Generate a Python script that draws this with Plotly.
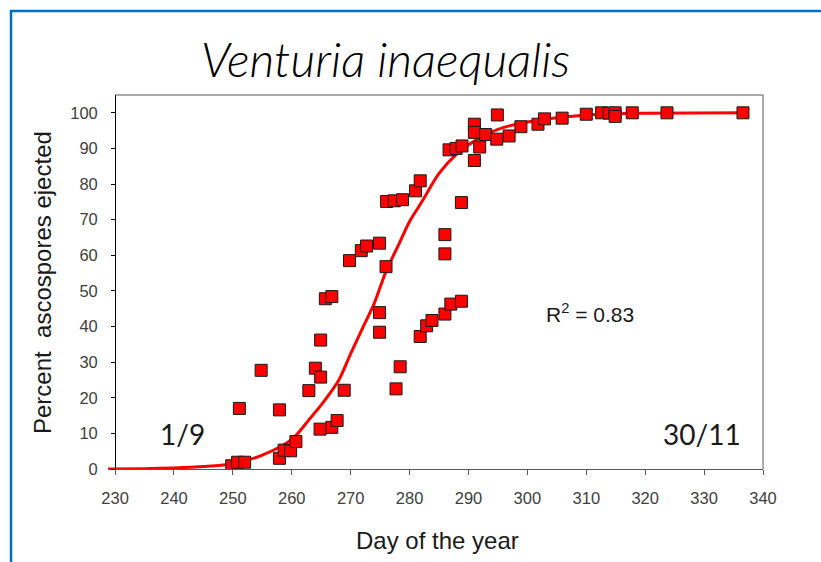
import plotly.graph_objects as go

# ---- data ----
day = [249.8, 250.8, 252.0, 251.1, 254.8, 257.9, 257.9, 258.7, 259.8, 260.7,
       262.9, 264.0, 264.9, 264.9, 264.8, 265.7, 266.8, 266.8, 267.7, 268.9,
       269.8, 271.8, 272.7, 274.9, 274.9, 274.9, 276.0, 277.7, 278.4, 276.1,
       277.4, 278.8, 281.0, 281.8, 281.8, 282.9, 283.8, 286.0, 286.0, 286.0,
       287.0, 288.8, 286.7, 287.9, 288.9, 288.8, 291.0, 291.0, 291.0, 291.9,
       292.9, 294.9, 294.8, 296.9, 298.9, 301.8, 302.9, 305.9, 310.0, 312.6,
       313.9, 314.9, 314.9, 317.8, 323.7, 336.6]
pct = [0.9, 1.9, 1.9, 17.0, 27.7, 16.6, 3.0, 5.3, 5.1, 7.7,
       22.0, 28.3, 25.8, 36.2, 11.2, 47.8, 48.4, 11.7, 13.6, 22.1,
       58.5, 61.3, 62.6, 63.4, 43.9, 38.4, 56.8, 22.5, 28.7, 75.1,
       75.3, 75.6, 78.1, 80.9, 37.2, 40.2, 41.7, 65.8, 60.4, 43.5,
       46.3, 47.1, 89.6, 90.0, 90.7, 74.8, 96.8, 94.5, 86.6, 90.4,
       93.9, 99.4, 92.6, 93.5, 96.1, 96.8, 98.3, 98.5, 99.6, 100.0,
       99.9, 100.0, 99.0, 100.0, 100.0, 100.0]

fit_day = [228.8, 235, 240, 245, 250, 255, 260, 263, 265, 268, 270, 272, 274,
           276, 278, 280, 282, 285, 288, 292, 296, 300, 305, 312, 320, 337]
fit_pct = [0.0, 0.1, 0.3, 0.7, 1.5, 3.9, 8.3, 14.0, 18.0, 25.0, 32.4, 39.5, 46.5,
           55.5, 62.5, 69.5, 74.8, 83.0, 88.4, 93.1, 95.9, 97.4, 98.6, 99.6, 99.9, 100.0]

x_ticks = list(range(230, 341, 10))
y_ticks = list(range(0, 101, 10))

title_text = "Venturia inaequalis"
x_title = "Day of the year"
y_title = "Percent  ascospores ejected"
r2_text = "R<sup>2</sup> = 0.83"
start_label = "1/9"
end_label = "30/11"

# ---- layout geometry ----
W, H = 821, 562
L, R, T, B = 108, 58, 95, 93
PW, PH = W - L - R, H - T - B
x_range = [228.8, 340]
y_range = [0, 105]
axis_pos = (x_ticks[0] - x_range[0]) / (x_range[1] - x_range[0])

def px(xp):
    return (xp - L) / PW

def py(yp):
    return (H - B - yp) / PH

fig = go.Figure()
fig.add_trace(go.Scatter(
    x=fit_day, y=fit_pct, mode="lines",
    line=dict(color="#ff0000", width=3, shape="spline", smoothing=0.8),
    hoverinfo="skip", showlegend=False))
fig.add_trace(go.Scatter(
    x=day, y=pct, mode="markers",
    marker=dict(symbol="square", size=12, color="#ff0000",
                line=dict(color="#1a1a1a", width=1)),
    showlegend=False))

tick_font = dict(family="Liberation Sans, Arial", size=16.5, color="#404040")

fig.update_layout(
    width=W, height=H,
    margin=dict(l=L, r=R, t=T, b=B, pad=0),
    paper_bgcolor="white", plot_bgcolor="white",
    xaxis=dict(range=x_range, tickvals=x_ticks, ticks="outside", ticklen=5,
               tickcolor="#595959", showline=True, linecolor="#595959",
               linewidth=1, showgrid=False, zeroline=False,
               tickfont=tick_font, ticklabelstandoff=9, fixedrange=True),
    yaxis=dict(range=y_range, tickvals=y_ticks, ticks="outside", ticklen=4,
               tickcolor="#000000", showline=True, linecolor="#000000",
               linewidth=1, showgrid=False, zeroline=False,
               anchor="free", position=axis_pos,
               tickfont=tick_font, ticklabelstandoff=10, fixedrange=True),
    shapes=[
        # plot box top and right
        dict(type="line", xref="paper", yref="paper", x0=axis_pos, x1=1, y0=1, y1=1,
             line=dict(color="#595959", width=1)),
        dict(type="line", xref="paper", yref="paper", x0=1, x1=1, y0=0, y1=1,
             line=dict(color="#595959", width=1)),
        # blue frame
        dict(type="line", xref="paper", yref="paper", x0=px(10), x1=px(W + 5),
             y0=py(11), y1=py(11), line=dict(color="#0070C0", width=2.5)),
        dict(type="line", xref="paper", yref="paper", x0=px(11), x1=px(11),
             y0=py(10), y1=py(H + 5), line=dict(color="#0070C0", width=2.5)),
    ],
    annotations=[
        dict(text="<i>" + title_text + "</i>", xref="paper", yref="paper",
             x=px(385), y=py(58), showarrow=False, xanchor="center", yanchor="middle",
             font=dict(family="Lato", size=48, color="#000000", weight=300)),
        dict(text=x_title, xref="paper", yref="paper", x=px(437), y=py(540),
             showarrow=False, xanchor="center", yanchor="middle",
             font=dict(family="Liberation Sans, Arial", size=24, color="#1a1a1a")),
        dict(text=y_title, xref="paper", yref="paper", x=px(42), y=py(283),
             showarrow=False, xanchor="center", yanchor="middle", textangle=-90,
             font=dict(family="Liberation Sans, Arial", size=24, color="#1a1a1a")),
        dict(text=r2_text, xref="paper", yref="paper", x=px(590), y=py(313),
             showarrow=False, xanchor="center", yanchor="middle",
             font=dict(family="Liberation Sans, Arial", size=21, color="#1a1a1a")),
        dict(text=start_label, xref="paper", yref="paper", x=px(182), y=py(434),
             showarrow=False, xanchor="center", yanchor="middle",
             font=dict(family="Lato", size=28, color="#1a1a1a")),
        dict(text=end_label, xref="paper", yref="paper", x=px(702), y=py(434),
             showarrow=False, xanchor="center", yanchor="middle",
             font=dict(family="Lato", size=28, color="#1a1a1a")),
    ],
)

fig.write_html("out.html", config={"displayModeBar": False},
               post_script="document.body.style.margin='0';")
